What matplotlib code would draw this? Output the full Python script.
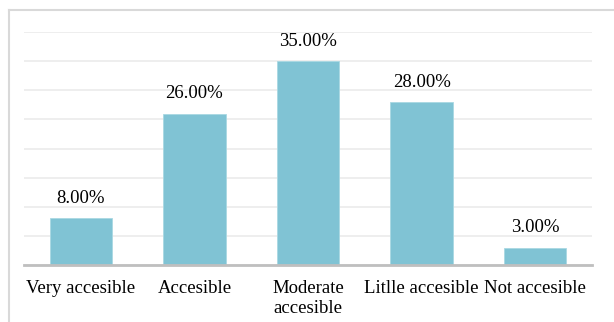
import matplotlib
matplotlib.use("Agg")
import matplotlib.pyplot as plt
from matplotlib.lines import Line2D

categories = ["Very accesible", "Accesible", "Moderate\naccesible", "Litlle accesible", "Not accesible"]
values = [8.0, 26.0, 35.0, 28.0, 3.0]
yticks = [0, 5, 10, 15, 20, 25, 30, 35, 40]

plt.rcParams['font.family'] = ['Liberation Serif', 'DejaVu Serif']

fig = plt.figure(figsize=(6.14, 3.22), dpi=100)
ax = fig.add_axes([24/614, 1-265/322, (592-24)/614, (265-32)/322])

x = list(range(len(categories)))
bars = ax.bar(x, values, width=0.55, color="#80C3D4", edgecolor="#A9D8E3", linewidth=0.6, zorder=3)

ax.set_ylim(0, 40)
ax.set_xlim(-0.5, len(categories) - 0.5)
ax.set_yticks(yticks)
ax.yaxis.grid(True, color="#EBEBEB", linewidth=1.2, zorder=0)
ax.tick_params(axis='y', left=False, labelleft=False)
ax.tick_params(axis='x', bottom=False, pad=7, labelsize=13.5)
ax.set_xticks(x)
ax.set_xticklabels(categories, linespacing=1.25)
for s in ["left", "right", "top"]:
    ax.spines[s].set_visible(False)
ax.spines["bottom"].set_color("#BFBFBF")
ax.spines["bottom"].set_linewidth(2)
ax.spines["bottom"].set_zorder(4)

for xi, v in zip(x, values):
    ax.annotate(f"{v:.2f}%", (xi, v), xytext=(0, 8), textcoords="offset points",
                ha="center", va="bottom", fontsize=13.5)

# outer frame (top and left edges visible)
fig.add_artist(Line2D([9/614, 1], [1-10/322, 1-10/322], transform=fig.transFigure, color="#D9D9D9", linewidth=1.5))
fig.add_artist(Line2D([9/614, 9/614], [0, 1-10/322], transform=fig.transFigure, color="#D9D9D9", linewidth=1.5))

fig.savefig("out.png", dpi=100)
